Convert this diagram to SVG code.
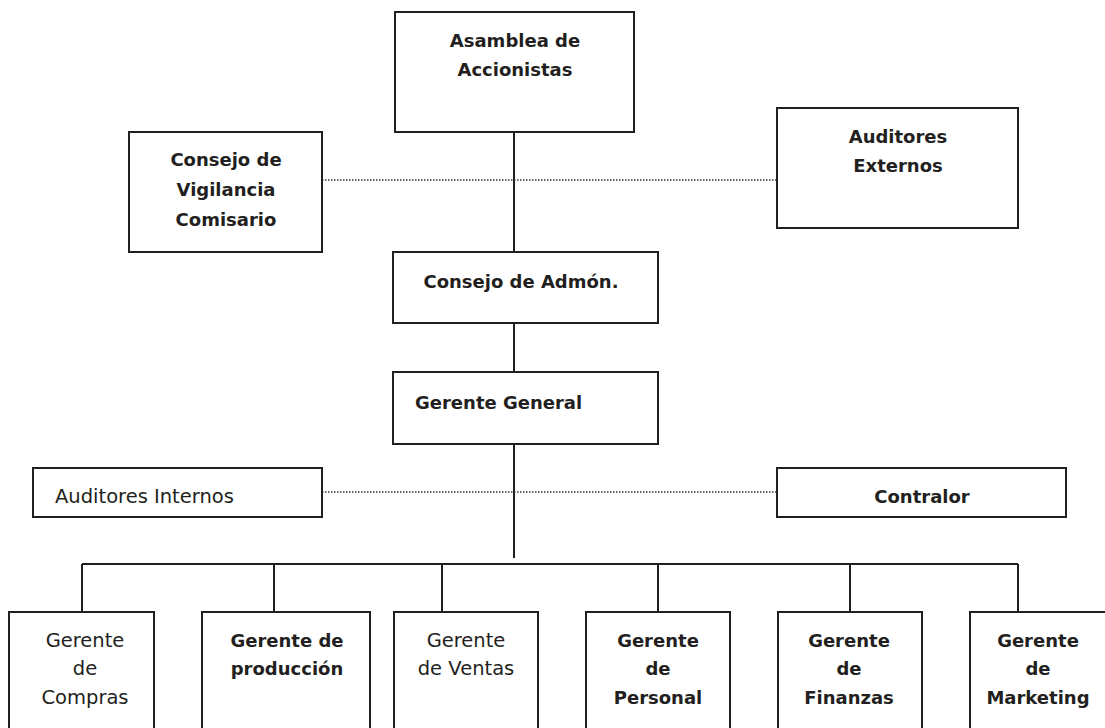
<svg xmlns="http://www.w3.org/2000/svg" width="1105" height="728" viewBox="0 0 1105 728">
<style>
.box{fill:#fff;stroke:#231f20;stroke-width:2}
.ln{fill:none;stroke:#231f20;stroke-width:2}
.dot{fill:none;stroke:#333;stroke-width:1.3;stroke-dasharray:1.5 1.5}
.b{font-family:"DejaVu Sans",sans-serif;font-weight:bold;font-size:18px;fill:#231f20;text-anchor:middle}
.r{font-family:"DejaVu Sans",sans-serif;font-size:19.5px;fill:#231f20;text-anchor:middle}
</style>
<rect width="1105" height="728" fill="#fff"/>
<g id="connectors">
<line class="ln" x1="514" y1="132" x2="514" y2="252"/>
<line class="ln" x1="514" y1="323" x2="514" y2="372"/>
<line class="ln" x1="514" y1="444" x2="514" y2="558"/>
<line class="dot" x1="322" y1="180" x2="777" y2="180"/>
<line class="dot" x1="322" y1="492" x2="777" y2="492"/>
<line class="ln" x1="82" y1="564" x2="1018" y2="564"/>
<line class="ln" x1="82" y1="564" x2="82" y2="612"/>
<line class="ln" x1="274" y1="564" x2="274" y2="612"/>
<line class="ln" x1="442" y1="564" x2="442" y2="612"/>
<line class="ln" x1="658" y1="564" x2="658" y2="612"/>
<line class="ln" x1="850" y1="564" x2="850" y2="612"/>
<line class="ln" x1="1018" y1="564" x2="1018" y2="612"/>
</g>
<g id="asamblea">
<rect class="box" x="395" y="12" width="239" height="120"/>
<text class="b" x="515" y="47">Asamblea de</text>
<text class="b" x="515" y="76">Accionistas</text>
</g>
<g id="consejo-vigilancia">
<rect class="box" x="129" y="132" width="193" height="120"/>
<text class="b" x="226" y="166">Consejo de</text>
<text class="b" x="226" y="196">Vigilancia</text>
<text class="b" x="226" y="226">Comisario</text>
</g>
<g id="auditores-externos">
<rect class="box" x="777" y="108" width="241" height="120"/>
<text class="b" x="898" y="143">Auditores</text>
<text class="b" x="898" y="172">Externos</text>
</g>
<g id="consejo-admon">
<rect class="box" x="393" y="252" width="265" height="71"/>
<text class="b" x="521" y="288">Consejo de Admón.</text>
</g>
<g id="gerente-general">
<rect class="box" x="393" y="372" width="265" height="72"/>
<text class="b" x="415" y="409" style="text-anchor:start">Gerente General</text>
</g>
<g id="auditores-internos">
<rect class="box" x="33" y="468" width="289" height="49"/>
<text class="r" x="55" y="503" style="text-anchor:start">Auditores Internos</text>
</g>
<g id="contralor">
<rect class="box" x="777" y="468" width="289" height="49"/>
<text class="b" x="922" y="503">Contralor</text>
</g>
<g id="gerente-compras">
<rect class="box" x="9" y="612" width="145" height="130"/>
<text class="r" x="85" y="647">Gerente</text>
<text class="r" x="85" y="675">de</text>
<text class="r" x="85" y="704">Compras</text>
</g>
<g id="gerente-produccion">
<rect class="box" x="202" y="612" width="168" height="130"/>
<text class="b" x="287" y="647">Gerente de</text>
<text class="b" x="287" y="675">producción</text>
</g>
<g id="gerente-ventas">
<rect class="box" x="394" y="612" width="144" height="130"/>
<text class="r" x="466" y="647">Gerente</text>
<text class="r" x="466" y="675">de Ventas</text>
</g>
<g id="gerente-personal">
<rect class="box" x="586" y="612" width="144" height="130"/>
<text class="b" x="658" y="647">Gerente</text>
<text class="b" x="658" y="675">de</text>
<text class="b" x="658" y="704">Personal</text>
</g>
<g id="gerente-finanzas">
<rect class="box" x="778" y="612" width="144" height="130"/>
<text class="b" x="849" y="647">Gerente</text>
<text class="b" x="849" y="675">de</text>
<text class="b" x="849" y="704">Finanzas</text>
</g>
<g id="gerente-marketing">
<rect class="box" x="970" y="612" width="145" height="130"/>
<text class="b" x="1038" y="647">Gerente</text>
<text class="b" x="1038" y="675">de</text>
<text class="b" x="1038" y="704">Marketing</text>
</g>
</svg>
